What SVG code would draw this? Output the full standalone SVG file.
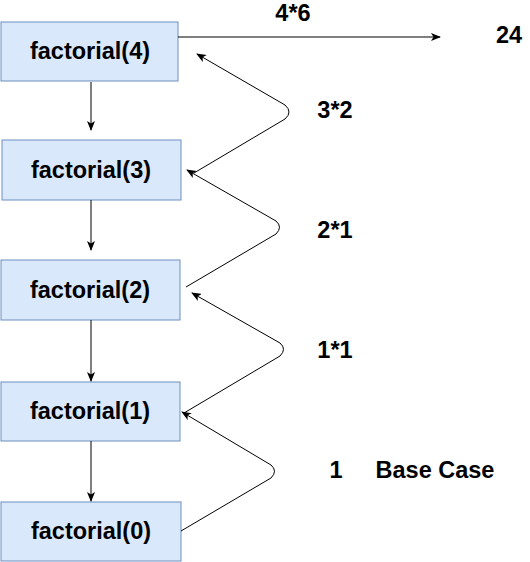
<svg xmlns="http://www.w3.org/2000/svg" width="530" height="562" viewBox="0 0 530 562">
<style>
.box{fill:#dae8fc;stroke:#6c8ebf;stroke-width:1}
.t{font-family:"Liberation Sans",Arial,sans-serif;font-weight:bold;font-size:23.5px;fill:#000}
.e{fill:none;stroke:#000;stroke-width:1}
</style>
<defs>
<marker id="a" viewBox="0 0 10 8" refX="9" refY="4" markerWidth="10" markerHeight="8" markerUnits="userSpaceOnUse" orient="auto">
<path d="M0,0 L10,4 L0,8 L2.5,4 Z" fill="#000"/>
</marker>
</defs>
<rect width="530" height="562" fill="#fff"/>
<g id="n4"><rect class="box" x="1" y="22" width="177" height="59"/><text class="t" x="90" y="59" text-anchor="middle">factorial(4)</text></g>
<g id="n3"><rect class="box" x="2" y="140" width="179" height="60"/><text class="t" x="91" y="178" text-anchor="middle">factorial(3)</text></g>
<g id="n2"><rect class="box" x="1" y="260" width="179" height="60"/><text class="t" x="90" y="298" text-anchor="middle">factorial(2)</text></g>
<g id="n1"><rect class="box" x="1" y="382" width="179" height="59"/><text class="t" x="90" y="419" text-anchor="middle">factorial(1)</text></g>
<g id="n0"><rect class="box" x="1" y="502" width="180" height="59"/><text class="t" x="91" y="539" text-anchor="middle">factorial(0)</text></g>
<g id="connectors">
<path class="e" d="M91,82 V130" marker-end="url(#a)"/>
<path class="e" d="M91,200 V250" marker-end="url(#a)"/>
<path class="e" d="M91,320 V381" marker-end="url(#a)"/>
<path class="e" d="M91,441 V501" marker-end="url(#a)"/>
<path class="e" d="M178,37 H440" marker-end="url(#a)"/>
<path class="e" d="M194,173 L285,119 Q293,112 285,105 L197,54" marker-end="url(#a)"/>
<path class="e" d="M186,287 L276,234 Q283,227 276,221 L187,170" marker-end="url(#a)"/>
<path class="e" d="M184,413 L280,356 Q287,349 280,343 L192,293" marker-end="url(#a)"/>
<path class="e" d="M181,531 L271,478 Q278,471 271,465 L182,412" marker-end="url(#a)"/>
</g>
<g id="labels">
<text class="t" x="293" y="21" text-anchor="middle">4*6</text>
<text class="t" x="509" y="43" text-anchor="middle">24</text>
<text class="t" x="335" y="118" text-anchor="middle">3*2</text>
<text class="t" x="335" y="238" text-anchor="middle">2*1</text>
<text class="t" x="335" y="358" text-anchor="middle">1*1</text>
<text class="t" x="336" y="478" text-anchor="middle">1</text>
<text class="t" x="435" y="478" text-anchor="middle">Base Case</text>
</g>
</svg>
